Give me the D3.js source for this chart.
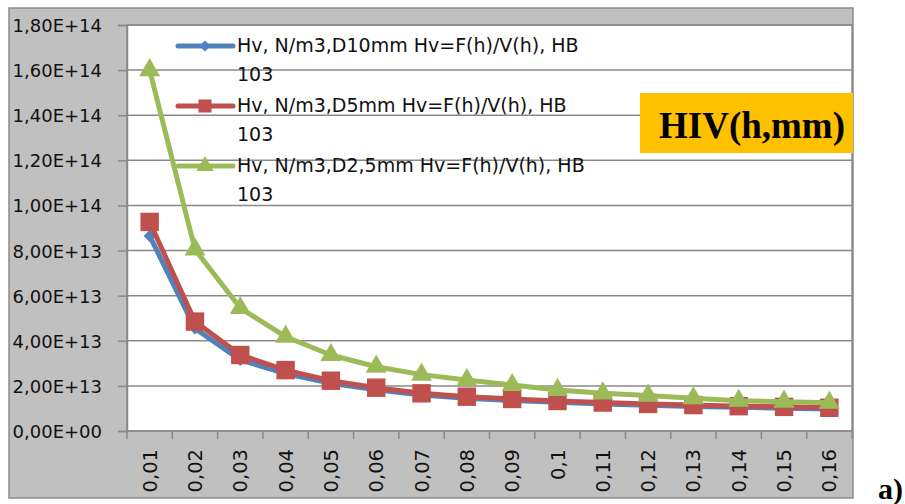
<!DOCTYPE html>
<html>
<head>
<meta charset="utf-8">
<script src="https://cdn.jsdelivr.net/npm/d3@7/dist/d3.min.js"></script>
<style>
  html, body { margin: 0; padding: 0; background: #ffffff; }
  svg { display: block; }
</style>
</head>
<body>
<svg id="chart" width="905" height="504"></svg>
<script>
// Depth h, mm (category axis)
const depths = ["0,01","0,02","0,03","0,04","0,05","0,06","0,07","0,08",
                "0,09","0,1","0,11","0,12","0,13","0,14","0,15","0,16"];

// Hv, N/m3 for each indenter diameter
const hvD10 = [8.65e13, 4.55e13, 3.15e13, 2.55e13, 2.12e13, 1.83e13, 1.60e13, 1.45e13,
               1.35e13, 1.27e13, 1.20e13, 1.14e13, 1.09e13, 1.05e13, 1.01e13, 0.97e13];
const hvD5  = [9.27e13, 4.85e13, 3.37e13, 2.70e13, 2.23e13, 1.92e13, 1.67e13, 1.52e13,
               1.42e13, 1.33e13, 1.26e13, 1.20e13, 1.15e13, 1.10e13, 1.07e13, 1.03e13];
const hvD25 = [1.60e14, 8.05e13, 5.45e13, 4.18e13, 3.37e13, 2.85e13, 2.50e13, 2.26e13,
               2.04e13, 1.82e13, 1.67e13, 1.57e13, 1.45e13, 1.34e13, 1.30e13, 1.25e13];

const seriesNames = [
  "Hv, N/m3,D10mm Hv=F(h)/V(h), HB 103",
  "Hv, N/m3,D5mm Hv=F(h)/V(h), HB 103",
  "Hv, N/m3,D2,5mm Hv=F(h)/V(h), HB 103"
];

const yTicks = [0, 2e13, 4e13, 6e13, 8e13, 1e14, 1.2e14, 1.4e14, 1.6e14, 1.8e14];
const titleText = "HIV(h,mm)";
const panelTag = "a)";

const colors = ["#4F81BD", "#C0504D", "#9BBB59"];
const markers = ["diamond", "square", "triangle"];
const series = [hvD10, hvD5, hvD25].map((vals, i) => ({
  name: seriesNames[i], color: colors[i], marker: markers[i],
  points: vals.map((v, j) => ({ cat: depths[j], v }))
}));

const svg = d3.select("#chart");
const plot = { left: 127, top: 25, right: 852, bottom: 431 };
const gridColor = "#898989";
const axisFont = "'DejaVu Sans', sans-serif";

// Chart area background
svg.append("rect")
  .attr("x", 9).attr("y", 8).attr("width", 844).attr("height", 490)
  .attr("fill", "#C0C0C0").attr("stroke", "#8C8C8C").attr("stroke-width", 1.5);

// Plot area
svg.append("rect")
  .attr("x", plot.left).attr("y", plot.top)
  .attr("width", plot.right - plot.left).attr("height", plot.bottom - plot.top)
  .attr("fill", "#ffffff").attr("stroke", gridColor).attr("stroke-width", 1.5);

const x = d3.scaleBand().domain(depths).range([plot.left, plot.right]).padding(0);
const y = d3.scaleLinear().domain([0, 1.8e14]).range([plot.bottom, plot.top]);
const cx = c => x(c) + x.bandwidth() / 2;

// 1,80E+14 style labels
function sciComma(v) {
  const [m, e] = v.toExponential(2).split("e");
  const sign = e[0] === "-" ? "-" : "+";
  const digits = e.replace(/[+-]/, "").padStart(2, "0");
  return m.replace(".", ",") + "E" + sign + digits;
}

// Horizontal gridlines
svg.append("g").selectAll("line").data(yTicks.slice(1)).join("line")
  .attr("x1", plot.left).attr("x2", plot.right)
  .attr("y1", d => y(d)).attr("y2", d => y(d))
  .attr("stroke", gridColor).attr("stroke-width", 1.5);

// Y axis
const yAxis = svg.append("g")
  .attr("transform", `translate(${plot.left},0)`)
  .call(d3.axisLeft(y).tickValues(yTicks).tickFormat(sciComma).tickSize(9).tickPadding(16));
yAxis.select(".domain").attr("stroke", gridColor).attr("stroke-width", 1.5);
yAxis.selectAll(".tick line").attr("stroke", gridColor).attr("stroke-width", 1.5);
yAxis.selectAll(".tick text")
  .attr("font-family", axisFont).attr("font-size", 18).attr("fill", "#111")
  .attr("dy", "0.36em");

// X axis line and boundary ticks
svg.append("line")
  .attr("x1", plot.left).attr("x2", plot.right)
  .attr("y1", plot.bottom).attr("y2", plot.bottom)
  .attr("stroke", gridColor).attr("stroke-width", 1.5);
const edges = depths.map(d => x(d)).concat([x(depths[depths.length - 1]) + x.bandwidth()]);
svg.append("g").selectAll("line").data(edges).join("line")
  .attr("x1", d => d).attr("x2", d => d)
  .attr("y1", plot.bottom).attr("y2", plot.bottom + 8)
  .attr("stroke", gridColor).attr("stroke-width", 1.5);

// Rotated category labels
svg.append("g").selectAll("text").data(depths).join("text")
  .attr("transform", d => `translate(${cx(d)},${plot.bottom + 18}) rotate(-90)`)
  .attr("text-anchor", "end").attr("dy", "0.36em")
  .attr("font-family", axisFont).attr("font-size", 19.5).attr("fill", "#111")
  .text(d => d);

// Marker shapes
function markerPath(type, s) {
  if (type === "diamond") return d3.symbol(d3.symbolDiamond2 || d3.symbolDiamond, s)();
  if (type === "square") return d3.symbol(d3.symbolSquare, s)();
  return d3.symbol(d3.symbolTriangle, s)();
}
const markerSize = { diamond: 95, square: 340, triangle: 190 };
const legendMarkerSize = { diamond: 80, square: 170, triangle: 130 };

const line = d3.line().x(d => cx(d.cat)).y(d => y(d.v));

series.forEach(s => {
  const g = svg.append("g");
  g.append("path").datum(s.points)
    .attr("d", line).attr("fill", "none")
    .attr("stroke", s.color).attr("stroke-width", 5)
    .attr("stroke-linejoin", "round").attr("stroke-linecap", "round");
  g.selectAll("path.m").data(s.points).join("path").attr("class", "m")
    .attr("transform", d => `translate(${cx(d.cat)},${y(d.v)})`)
    .attr("d", markerPath(s.marker, markerSize[s.marker]))
    .attr("fill", s.color);
});

// Legend (two-line entries)
const legend = svg.append("g");
series.forEach((s, i) => {
  const ly = 46 + i * 60;
  const cut = s.name.lastIndexOf(" ");
  const first = s.name.slice(0, cut), second = s.name.slice(cut + 1);
  legend.append("line")
    .attr("x1", 178).attr("x2", 233).attr("y1", ly).attr("y2", ly)
    .attr("stroke", s.color).attr("stroke-width", 5).attr("stroke-linecap", "round");
  legend.append("path")
    .attr("transform", `translate(205,${ly})`)
    .attr("d", markerPath(s.marker, legendMarkerSize[s.marker]))
    .attr("fill", s.color);
  const t = legend.append("text")
    .attr("x", 237).attr("y", ly + 6)
    .attr("font-family", axisFont).attr("font-size", 19).attr("fill", "#111");
  t.append("tspan").attr("x", 237).text(first);
  t.append("tspan").attr("x", 237).attr("dy", 29).text(second);
});

// Title box
svg.append("rect")
  .attr("x", 640).attr("y", 93).attr("width", 213).attr("height", 60)
  .attr("fill", "#FFC000");
svg.append("text")
  .attr("x", 659).attr("y", 138)
  .attr("font-family", "'Liberation Serif', 'Times New Roman', serif")
  .attr("font-weight", "bold").attr("font-size", 37).attr("fill", "#000")
  .text(titleText);

// Panel tag
svg.append("text")
  .attr("x", 878).attr("y", 499)
  .attr("font-family", "'Liberation Serif', 'Times New Roman', serif")
  .attr("font-weight", "bold").attr("font-size", 30).attr("fill", "#000")
  .text(panelTag);
</script>
</body>
</html>
